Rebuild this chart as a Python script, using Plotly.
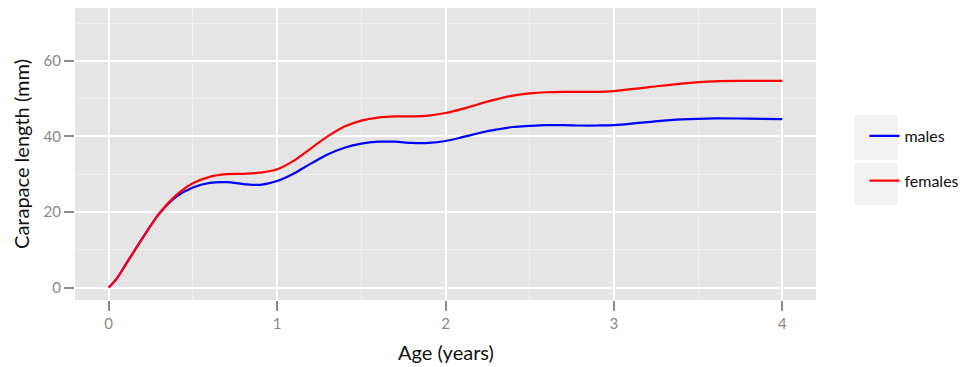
import plotly.graph_objects as go

age = [0, 0.05, 0.1, 0.2, 0.3, 0.4, 0.5, 0.6, 0.7, 0.8, 0.9, 1.0, 1.1, 1.2, 1.3, 1.4,
       1.5, 1.6, 1.7, 1.8, 1.9, 2.0, 2.1, 2.2, 2.3, 2.4, 2.5, 2.6, 2.7, 2.8, 2.9, 3.0,
       3.2, 3.4, 3.6, 3.8, 4.0]

males = [0, 2.5, 6, 13, 19.5, 24, 26.5, 27.7, 27.9, 27.4, 27.2, 28.2, 30.2, 32.8, 35.2, 37.0,
         38.1, 38.6, 38.6, 38.3, 38.3, 38.8, 39.8, 40.9, 41.8, 42.5, 42.8, 43.0, 43.0, 42.9, 42.9, 43.0,
         43.8, 44.5, 44.8, 44.7, 44.6]

females = [0, 2.5, 6, 13, 19.6, 24.4, 27.6, 29.3, 30.0, 30.1, 30.4, 31.3, 33.6, 36.8, 40.0, 42.6,
           44.2, 45.0, 45.3, 45.3, 45.5, 46.2, 47.3, 48.6, 49.8, 50.8, 51.4, 51.7, 51.8, 51.8, 51.8, 52.0,
           53.0, 54.0, 54.6, 54.7, 54.7]

x_ticks = [0, 1, 2, 3, 4]
y_ticks = [0, 20, 40, 60]

FONT = "Lato"

fig = go.Figure()
fig.add_trace(go.Scatter(x=age, y=males, mode="lines", name="males", legendgroup="m",
                         line=dict(color="#0000ff", width=2.2, shape="spline", smoothing=1.0)))
fig.add_trace(go.Scatter(x=age, y=females, mode="lines", name="females", legendgroup="f",
                         line=dict(color="#ff0000", width=2.2, shape="spline", smoothing=1.0)))

grid_major = "#ffffff"
fig.update_xaxes(
    range=[-0.2, 4.2], tickvals=x_ticks, ticktext=[str(v) for v in x_ticks],
    showgrid=True, gridcolor=grid_major, gridwidth=2, zeroline=False,
    minor=dict(dtick=0.5, tick0=0, showgrid=True, gridcolor="#f0f0f0", gridwidth=1),
    ticks="outside", ticklen=10, tickcolor="#8c8c8c", tickwidth=2,
    tickfont=dict(family=FONT, size=15, color="#8a8a8a"),
    showline=False, automargin=False,
)
fig.update_yaxes(
    range=[-3.3, 74], tickvals=y_ticks, ticktext=[str(v) for v in y_ticks],
    showgrid=True, gridcolor=grid_major, gridwidth=2, zeroline=False,
    minor=dict(dtick=10, tick0=0, showgrid=True, gridcolor="#f0f0f0", gridwidth=1),
    ticks="outside", ticklen=10, tickcolor="#8c8c8c", tickwidth=2,
    tickfont=dict(family=FONT, size=15, color="#8a8a8a"),
    title=dict(text="Carapace length (mm)", font=dict(family=FONT, size=20, color="#111111"), standoff=8),
    showline=False, automargin=False,
)

# x-axis title
fig.add_annotation(text="Age (years)", xref="paper", yref="paper", x=0.5, y=-0.178,
                   xanchor="center", yanchor="middle", showarrow=False,
                   font=dict(family=FONT, size=20, color="#111111"))

# legend key backgrounds (ggplot style)
for y0, y1 in [(0.4795, 0.6336), (0.3253, 0.4692)]:
    fig.add_shape(type="rect", xref="paper", yref="paper", x0=1.0513, x1=1.1107, y0=y0, y1=y1,
                  fillcolor="#f2f2f2", line=dict(width=0), layer="below")

fig.update_layout(
    width=960, height=359,
    margin=dict(l=67, r=152, t=0, b=67, autoexpand=False),
    plot_bgcolor="#e5e5e5", paper_bgcolor="#ffffff",
    font=dict(family=FONT),
    legend=dict(x=1.0654, xanchor="left", y=0.62, yanchor="top",
                font=dict(family=FONT, size=16, color="#111111"),
                tracegroupgap=21, bgcolor="rgba(0,0,0,0)"),
    showlegend=True,
)

fig.write_html("out.html")
